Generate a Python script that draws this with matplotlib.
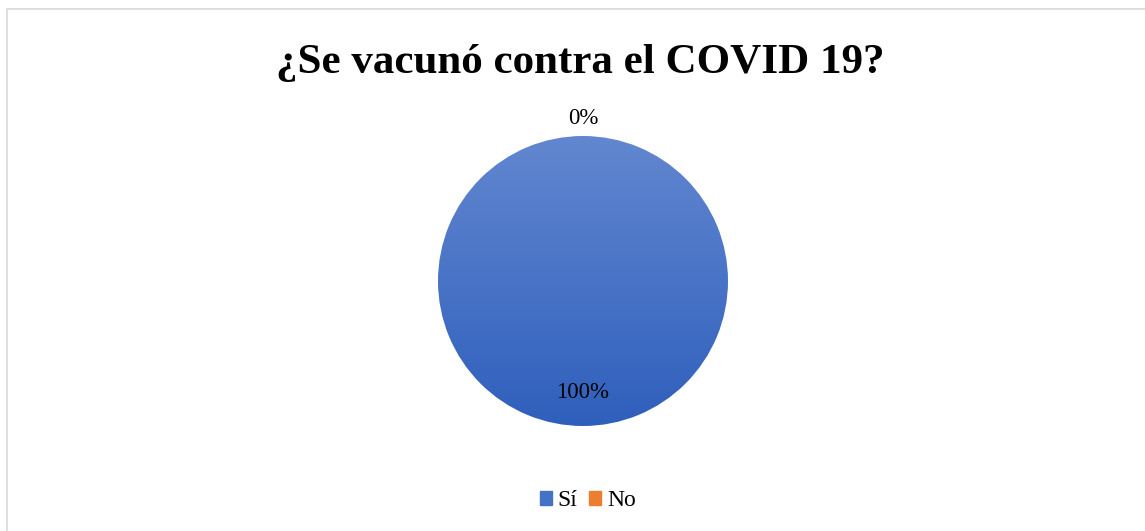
import matplotlib.pyplot as plt
import numpy as np
from matplotlib.colors import LinearSegmentedColormap
from matplotlib.patches import Rectangle

categories = ['Sí', 'No']
values = [100, 0]
colors = ['#4472C4', '#ED7D31']

plt.rcParams['font.family'] = ['Liberation Serif', 'DejaVu Serif']

fig = plt.figure(figsize=(11.45, 5.31), dpi=100)

# light frame (cut off on right and bottom)
fig.patches.append(Rectangle((7 / 1145, -0.1), 1.2, 1 - 9 / 531 + 0.1,
                             transform=fig.transFigure, fill=False,
                             edgecolor='#d9d9d9', linewidth=1.2))

fig.text(0.507, 1 - 63 / 531, '¿Se vacunó contra el COVID 19?',
         ha='center', va='center', fontsize=31, fontweight='bold')

ax = fig.add_axes([401.75 / 1145, 68.75 / 531, 362.5 / 1145, 362.5 / 531])
wedges, _ = ax.pie(values, colors=colors, startangle=90, counterclock=False,
                   wedgeprops=dict(linewidth=0))
ax.set_xlim(-1.25, 1.25)
ax.set_ylim(-1.25, 1.25)
ax.set_aspect('equal')

# gradient fill for the main slice
cmap = LinearSegmentedColormap.from_list('g', ['#2f5fbc', '#6287d0'])
grad = np.linspace(0, 1, 256).reshape(-1, 1)
for w, v in zip(wedges, values):
    if v > 0:
        w.set_facecolor('none')
        im = ax.imshow(grad, cmap=cmap, origin='lower', extent=[-1, 1, -1, 1],
                       aspect='auto', zorder=0.5)
        im.set_clip_path(w)

total = sum(values)
for w, v in zip(wedges, values):
    ang = np.deg2rad((w.theta1 + w.theta2) / 2)
    d = 0.77 if v > 0 else 1.12
    ax.text(d * np.cos(ang), d * np.sin(ang), f'{v / total * 100:.0f}%',
            ha='center', va='center', fontsize=16.5)

handles = [Rectangle((0, 0), 1, 1, color=c) for c in colors]
fig.legend(handles, categories, loc='center', bbox_to_anchor=(588 / 1145, 30 / 531),
           ncol=2, frameon=False, fontsize=17, handlelength=0.5, handleheight=0.5,
           handletextpad=0.25, columnspacing=0.5)

fig.savefig('out.png', dpi=100)
